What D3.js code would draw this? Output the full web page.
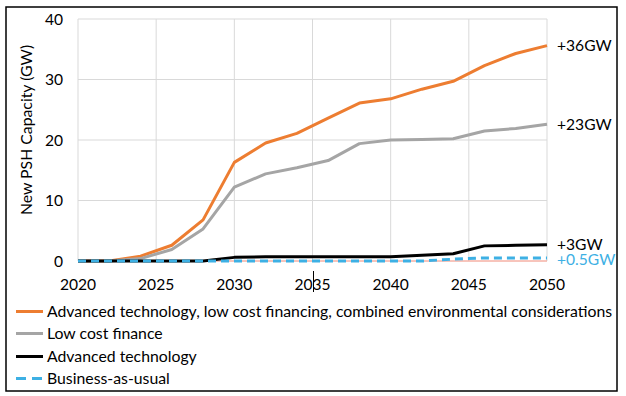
<!DOCTYPE html>
<html><head><meta charset="utf-8">
<script src="https://cdn.jsdelivr.net/npm/d3@7"></script>
<style>body{margin:0;background:#fff;}svg{display:block;font-family:Lato, "Open Sans", sans-serif;}</style>
</head><body>
<script>
const years = [2020,2022,2024,2026,2028,2030,2032,2034,2036,2038,2040,2042,2044,2046,2048,2050];
const advCombined = [0,0,0.8,2.6,6.8,16.3,19.5,21.1,23.6,26.1,26.8,28.4,29.7,32.3,34.3,35.6];
const lowCostFinance = [0,0,0.4,1.9,5.3,12.2,14.4,15.4,16.6,19.4,20.0,20.1,20.2,21.5,21.9,22.6];
const advTech = [0,0,0,0,0,0.6,0.7,0.7,0.7,0.7,0.7,0.95,1.2,2.5,2.6,2.7];
const bau = [0,0,0,0,0,0,0,0,0,0,0,0,0.3,0.5,0.5,0.5];
const seriesNames = ["Advanced technology, low cost financing, combined environmental considerations","Low cost finance","Advanced technology","Business-as-usual"];
const endLabels = ["+36GW","+23GW","+3GW","+0.5GW"];
const xTicks = [2020,2025,2030,2035,2040,2045,2050];
const yTicks = [0,10,20,30,40];
const colors = ["#ED7D31","#A5A5A5","#000000","#3DB0E4"];

const W=626,H=396;
const svg=d3.select("body").append("svg").attr("width",W).attr("height",H);
const fs=15.8, fsT=15.6;
const x=d3.scaleLinear().domain([2020,2050]).range([78,547]);
const y=d3.scaleLinear().domain([0,40]).range([261,19]);

// outer border
svg.append("rect").attr("x",6).attr("y",7).attr("width",611).attr("height",384)
  .attr("fill","none").attr("stroke","#000").attr("stroke-width",1.5);

// grid
svg.append("g").selectAll("line").data(xTicks).join("line")
  .attr("x1",d=>x(d)).attr("x2",d=>x(d)).attr("y1",y(40)).attr("y2",y(0))
  .attr("stroke","#d9d9d9").attr("stroke-width",1);
svg.append("g").selectAll("line").data(yTicks.filter(d=>d>0)).join("line")
  .attr("x1",x(2020)).attr("x2",x(2050)).attr("y1",d=>y(d)).attr("y2",d=>y(d))
  .attr("stroke","#d9d9d9").attr("stroke-width",1);
// axis line at 0
svg.append("line").attr("x1",x(2020)).attr("x2",x(2050)).attr("y1",y(0)).attr("y2",y(0))
  .attr("stroke","#F08A78").attr("stroke-width",1);

// tick labels
svg.append("g").selectAll("text").data(yTicks).join("text")
  .attr("x",63).attr("y",d=>y(d)).attr("dy","0.36em").attr("text-anchor","end")
  .attr("font-size",fsT).attr("fill","#000").text(d=>d);
svg.append("g").selectAll("text").data(xTicks).join("text")
  .attr("x",d=>x(d)).attr("y",284).attr("dy","0.36em").attr("text-anchor","middle")
  .attr("font-size",fsT).attr("fill","#000").text(d=>d);

// y title
svg.append("text").attr("transform","translate(26,130) rotate(-90)")
  .attr("text-anchor","middle").attr("dy","0.36em").attr("font-size",fs).text("New PSH Capacity (GW)");

// lines
const allSeries=[advCombined,lowCostFinance,advTech,bau];
const line=d3.line().x((d,i)=>x(years[i])).y(d=>y(d));
allSeries.forEach((s,k)=>{
  svg.append("path").datum(s).attr("d",line).attr("fill","none")
    .attr("stroke",colors[k]).attr("stroke-width",3).attr("stroke-linejoin","round")
    .attr("stroke-dasharray",k===3?"8,5":null);
});

// end labels
const labelY=[y(advCombined[15]),y(lowCostFinance[15]),244,259];
endLabels.forEach((t,k)=>{
  svg.append("text").attr("x",557).attr("y",labelY[k]).attr("dy","0.36em")
    .attr("font-size",fsT).attr("fill",k===3?colors[3]:"#000").text(t);
});

// cursor artifact
svg.append("line").attr("x1",313.5).attr("x2",313.5).attr("y1",271).attr("y2",292)
  .attr("stroke","#000").attr("stroke-width",1);

// legend
const legY=[311.5,333.5,356.5,378.5];
seriesNames.forEach((n,k)=>{
  svg.append("line").attr("x1",16).attr("x2",43).attr("y1",legY[k]).attr("y2",legY[k])
    .attr("stroke",colors[k]).attr("stroke-width",3).attr("stroke-dasharray",k===3?"10,6":null);
  svg.append("text").attr("x",47).attr("y",legY[k]).attr("dy","0.36em")
    .attr("font-size",fs).attr("fill","#000").text(n);
});
</script>
</body></html>
